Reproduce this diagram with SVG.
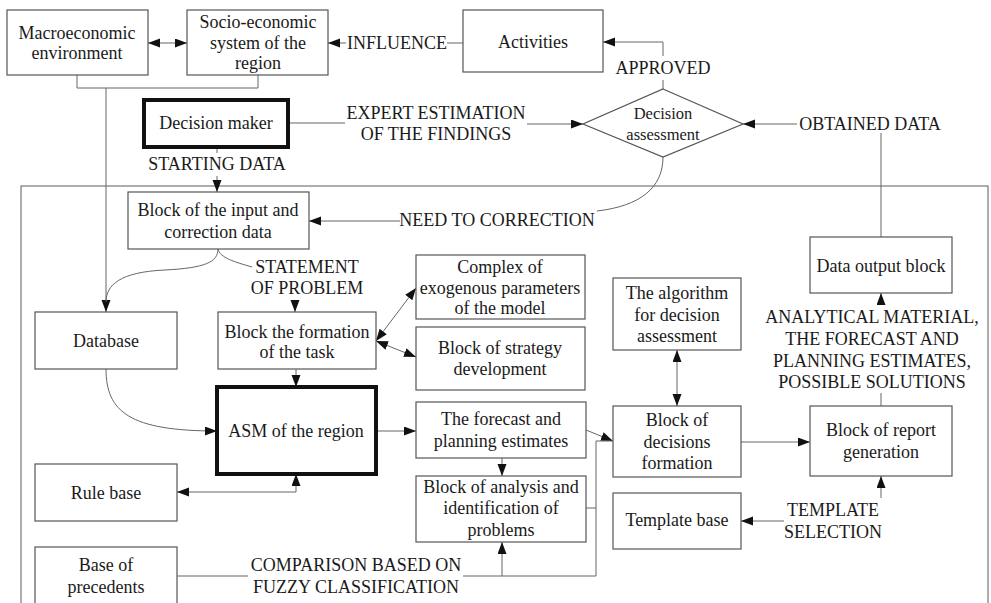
<svg xmlns="http://www.w3.org/2000/svg" width="991" height="603" viewBox="0 0 991 603" font-family="'Liberation Serif', Tinos, 'Times New Roman', 'Noto Serif', serif">
<style>
.box{fill:#fff;stroke:#555;stroke-width:1.2}
.thick{fill:#fff;stroke:#111;stroke-width:4}
.ln{fill:none;stroke:#666;stroke-width:1}
.t{font-size:18px;fill:#1a1a1a;text-anchor:middle}
.s{font-size:16.5px}
</style>
<defs>
<marker id="a" markerUnits="userSpaceOnUse" markerWidth="13" markerHeight="10" refX="12" refY="4.5" orient="auto-start-reverse">
<path d="M0,0 L12,4.5 L0,9 z" fill="#111"/>
</marker>
</defs>
<rect width="991" height="603" fill="#fff"/>
<g id="frame"><rect x="21" y="186" width="967" height="440" fill="none" stroke="#777" stroke-width="1.2"/></g>
<g id="connectors">
<line class="ln" x1="148" y1="43" x2="187" y2="43" marker-start="url(#a)" marker-end="url(#a)"/>
<line class="ln" x1="463" y1="43" x2="447" y2="43"/>
<line class="ln" x1="346" y1="43" x2="328" y2="43" marker-end="url(#a)"/>
<path class="ln" d="M663,89 V80"/>
<path class="ln" d="M663,56 V42 H603" marker-end="url(#a)"/>
<path class="ln" d="M77,75 V88 H258 V75"/>
<line class="ln" x1="106" y1="88" x2="106" y2="312" marker-end="url(#a)"/>
<line class="ln" x1="288" y1="123" x2="345" y2="123"/>
<line class="ln" x1="527" y1="124" x2="583" y2="124" marker-end="url(#a)"/>
<line class="ln" x1="797" y1="124" x2="743" y2="124" marker-end="url(#a)"/>
<line class="ln" x1="881" y1="133" x2="881" y2="237"/>
<line class="ln" x1="217" y1="147" x2="217" y2="153"/>
<line class="ln" x1="217" y1="176" x2="217" y2="192" marker-end="url(#a)"/>
<path class="ln" d="M663,157 C663,188 640,206 597,211"/>
<line class="ln" x1="400" y1="221" x2="309" y2="221" marker-end="url(#a)"/>
<path class="ln" d="M218,249 C220,258 235,262 252,267"/>
<path class="ln" d="M218,249 C218,262 205,268 165,270 C120,272 106,285 106,302"/>
<line class="ln" x1="295" y1="300" x2="295" y2="312" marker-end="url(#a)"/>
<line class="ln" x1="296" y1="369" x2="296" y2="387" marker-end="url(#a)"/>
<line class="ln" x1="376" y1="341" x2="416" y2="288" marker-start="url(#a)" marker-end="url(#a)"/>
<line class="ln" x1="376" y1="341" x2="416" y2="357" marker-start="url(#a)" marker-end="url(#a)"/>
<path class="ln" d="M106,369 C106,412 130,431 217,431" marker-end="url(#a)"/>
<line class="ln" x1="376" y1="431" x2="416" y2="431" marker-end="url(#a)"/>
<line class="ln" x1="502" y1="458" x2="502" y2="476" marker-end="url(#a)"/>
<line class="ln" x1="586" y1="430" x2="613" y2="441" marker-end="url(#a)"/>
<path class="ln" d="M586,508 H596 V441 H613"/>
<line class="ln" x1="677" y1="350" x2="677" y2="406" marker-start="url(#a)" marker-end="url(#a)"/>
<line class="ln" x1="741" y1="442" x2="810" y2="442" marker-end="url(#a)"/>
<path class="ln" d="M296,474 V492 H177" marker-start="url(#a)" marker-end="url(#a)"/>
<line class="ln" x1="177" y1="576" x2="248" y2="576"/>
<path class="ln" d="M463,576 H596 V508"/>
<line class="ln" x1="502" y1="576" x2="502" y2="542" marker-end="url(#a)"/>
<line class="ln" x1="881" y1="305" x2="881" y2="293" marker-end="url(#a)"/>
<line class="ln" x1="881" y1="393" x2="881" y2="406"/>
<line class="ln" x1="881" y1="498" x2="881" y2="476" marker-end="url(#a)"/>
<line class="ln" x1="784" y1="521" x2="741" y2="521" marker-end="url(#a)"/>
</g>
<g id="labels">
<text class="t" x="397" y="49">INFLUENCE</text>
<text class="t" x="663" y="74">APPROVED</text>
<text class="t" x="436" y="119">EXPERT ESTIMATION</text>
<text class="t" x="436" y="140">OF THE FINDINGS</text>
<text class="t" x="870" y="130">OBTAINED DATA</text>
<text class="t" x="217" y="170">STARTING DATA</text>
<text class="t" x="497" y="226">NEED TO CORRECTION</text>
<text class="t" x="307" y="273">STATEMENT</text>
<text class="t" x="307" y="294">OF PROBLEM</text>
<text class="t" x="872" y="323">ANALYTICAL MATERIAL,</text>
<text class="t" x="872" y="345">THE FORECAST AND</text>
<text class="t" x="872" y="367">PLANNING ESTIMATES,</text>
<text class="t" x="872" y="388">POSSIBLE SOLUTIONS</text>
<text class="t" x="833" y="516">TEMPLATE</text>
<text class="t" x="833" y="538">SELECTION</text>
<text class="t" x="356" y="571">COMPARISON BASED ON</text>
<text class="t" x="356" y="593">FUZZY CLASSIFICATION</text>
</g>
<g id="macro"><rect class="box" x="7" y="10" width="141" height="65"/><text class="t" x="77" y="39">Macroeconomic</text><text class="t" x="77" y="59">environment</text></g>
<g id="socio"><rect class="box" x="187" y="10" width="141" height="65"/><text class="t" x="258" y="28">Socio-economic</text><text class="t" x="258" y="49">system of the</text><text class="t" x="258" y="69">region</text></g>
<g id="activities"><rect class="box" x="463" y="10" width="140" height="62"/><text class="t" x="533" y="48">Activities</text></g>
<g id="decision-maker"><rect class="thick" x="144" y="100" width="144" height="47"/><text class="t" x="216" y="129">Decision maker</text></g>
<g id="decision-assessment"><polygon class="box" points="663,89 743,124 663,157 583,124"/><text class="t s" x="663" y="119">Decision</text><text class="t s" x="663" y="140">assessment</text></g>
<g id="input"><rect class="box" x="128" y="192" width="181" height="57"/><text class="t" x="218" y="216">Block of the input and</text><text class="t" x="218" y="238">correction data</text></g>
<g id="database"><rect class="box" x="35" y="312" width="142" height="57"/><text class="t" x="106" y="347">Database</text></g>
<g id="formation"><rect class="box" x="218" y="312" width="158" height="57"/><text class="t" x="297" y="338">Block the formation</text><text class="t" x="297" y="358">of the task</text></g>
<g id="complex"><rect class="box" x="416" y="255" width="169" height="64"/><text class="t" x="500" y="273">Complex of</text><text class="t" x="500" y="294">exogenous parameters</text><text class="t" x="500" y="314">of the model</text></g>
<g id="strategy"><rect class="box" x="416" y="327" width="169" height="63"/><text class="t" x="500" y="354">Block of strategy</text><text class="t" x="500" y="375">development</text></g>
<g id="algorithm"><rect class="box" x="613" y="278" width="128" height="72"/><text class="t" x="677" y="299">The algorithm</text><text class="t" x="677" y="321">for decision</text><text class="t" x="677" y="342">assessment</text></g>
<g id="data-output"><rect class="box" x="810" y="237" width="142" height="56"/><text class="t" x="881" y="272">Data output block</text></g>
<g id="asm"><rect class="thick" x="217" y="387" width="159" height="87"/><text class="t" x="296" y="437">ASM of the region</text></g>
<g id="forecast"><rect class="box" x="416" y="402" width="170" height="56"/><text class="t" x="501" y="425">The forecast and</text><text class="t" x="501" y="447">planning estimates</text></g>
<g id="decisions"><rect class="box" x="613" y="406" width="128" height="71"/><text class="t" x="677" y="426">Block of</text><text class="t" x="677" y="448">decisions</text><text class="t" x="677" y="469">formation</text></g>
<g id="report"><rect class="box" x="810" y="406" width="142" height="70"/><text class="t" x="881" y="436">Block of report</text><text class="t" x="881" y="458">generation</text></g>
<g id="rule-base"><rect class="box" x="35" y="464" width="142" height="57"/><text class="t" x="106" y="499">Rule base</text></g>
<g id="analysis"><rect class="box" x="416" y="476" width="170" height="66"/><text class="t" x="501" y="493">Block of analysis and</text><text class="t" x="501" y="514">identification of</text><text class="t" x="501" y="536">problems</text></g>
<g id="template"><rect class="box" x="613" y="493" width="128" height="56"/><text class="t" x="677" y="526">Template base</text></g>
<g id="precedents"><rect class="box" x="35" y="547" width="142" height="70"/><text class="t" x="106" y="571">Base of</text><text class="t" x="106" y="593">precedents</text></g>
</svg>
